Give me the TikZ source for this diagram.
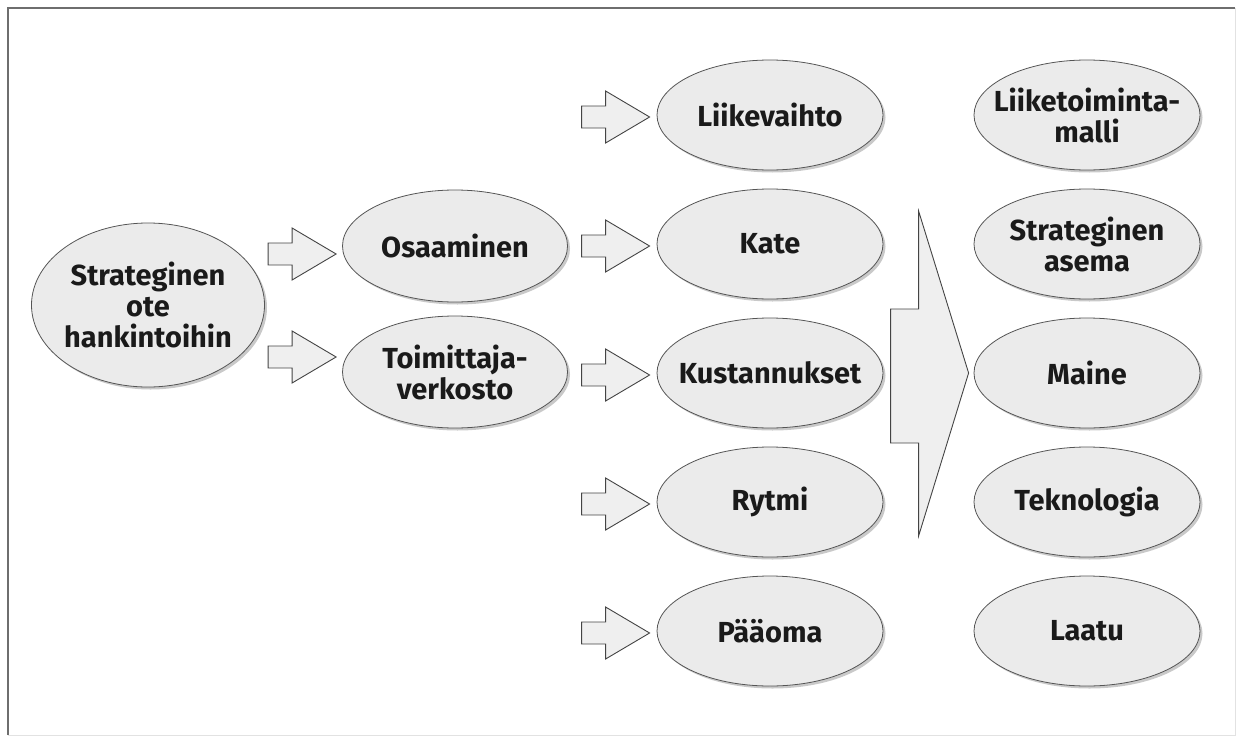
\documentclass[tikz,border=0pt]{standalone}
\usepackage{fontspec}
\setmainfont{Fira Sans}
\usetikzlibrary{shapes.geometric,shadows,calc}
\definecolor{ellfill}{HTML}{EBEBEB}
\definecolor{edgecol}{HTML}{555555}
\definecolor{arrfill}{HTML}{EFEFEF}
\definecolor{arrcol}{HTML}{444444}
\definecolor{txtcol}{HTML}{1A1A1A}
\definecolor{framedark}{HTML}{6E6E6E}
\definecolor{framelight}{HTML}{E2E2E2}
\begin{document}
\begin{tikzpicture}[x=1pt,y=-1pt,
  oval/.style={ellipse, draw=edgecol, line width=0.8pt, fill=ellfill,
    minimum width=226pt, minimum height=110pt, inner xsep=-60pt, inner ysep=-20pt, align=center,
    font=\fontsize{29}{31}\selectfont\bfseries, text=txtcol,
    drop shadow={shadow xshift=2.5pt, shadow yshift=-2.5pt, opacity=0.3, fill=black!70}},
  blockarrow/.style={draw=arrcol, fill=arrfill, line width=0.9pt, line join=miter},
  pics/fatarrow/.style={code={
    \draw[blockarrow] (-68,-11) -- (-44,-11) -- (-44,-26) -- (0,0) -- (-44,26) -- (-44,11) -- (-68,11) -- cycle;
    \coordinate (-tip) at (0,0);}},
  pics/bigarrow/.style={code={
    \draw[blockarrow] (-78,-64) -- (-50,-64) -- (-50,-162) -- (0,0) -- (-50,163) -- (-50,70) -- (-78,70) -- cycle;
    \coordinate (-tip) at (0,0);}}
]
\useasboundingbox (0,0) rectangle (1239,736);
% frame
\draw[framelight, line width=1pt] (1235,8) -- (1235,735) -- (8,735);
\draw[framedark, line width=1.4pt] (8,735) -- (8,8) -- (1235,8);

% nodes
\node[oval, minimum width=233pt, minimum height=164pt] (src) at (148,305) {Strateginen\\ote\\hankintoihin};
\node[oval, minimum width=225pt, minimum height=112pt] (osa) at (455,246) {Osaaminen};
\node[oval, minimum width=225pt, minimum height=112pt] (toi) at (455,372) {Toimittaja-\\verkosto};

\node[oval] (liv) at (770,115) {Liikevaihto};
\node[oval] (kat) at (770,244) {Kate};
\node[oval] (kus) at (770,373) {Kustannukset};
\node[oval] (ryt) at (770,502) {Rytmi};
\node[oval] (paa) at (770,631) {Pääoma};

\node[oval] (ltm) at (1087,115) {Liiketoiminta-\\malli};
\node[oval] (sas) at (1087,244) {Strateginen\\asema};
\node[oval] (mai) at (1087,373) {Maine};
\node[oval] (tek) at (1087,502) {Teknologia};
\node[oval] (laa) at (1087,631) {Laatu};

% block arrows
\pic (a1) at ($(osa.west)+(-6,8)$) {fatarrow};
\pic (a2) at ($(toi.west)+(-6,-15)$) {fatarrow};
\pic (a3) at ($(liv.west)+(-7,2)$) {fatarrow};
\pic (a4) at ($(kat.west)+(-7,2)$) {fatarrow};
\pic (a5) at ($(kus.west)+(-7,2)$) {fatarrow};
\pic (a6) at ($(ryt.west)+(-7,2)$) {fatarrow};
\pic (a7) at ($(paa.west)+(-7,2)$) {fatarrow};
\pic (big) at ($(mai.west)+(-5,0)$) {bigarrow};
\end{tikzpicture}
\end{document}
